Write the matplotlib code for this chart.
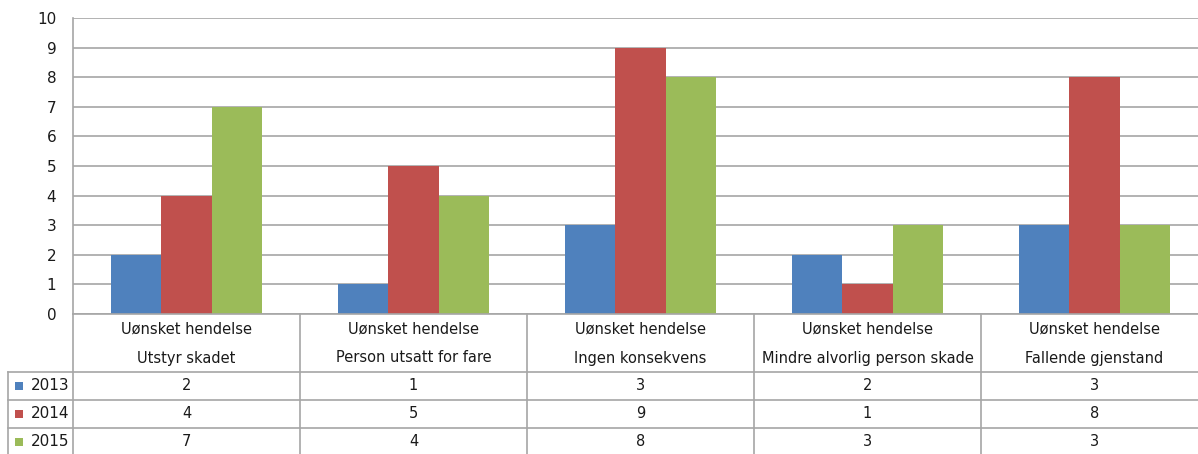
import numpy as np
import matplotlib
matplotlib.use('Agg')
import matplotlib.pyplot as plt

plt.rcParams['font.family'] = ['DejaVu Sans']

# data
top_label = 'Uønsket hendelse'
categories = ['Utstyr skadet', 'Person utsatt for fare', 'Ingen konsekvens',
              'Mindre alvorlig person skade', 'Fallende gjenstand']
years = ['2013', '2014', '2015']
v2013 = [2, 1, 3, 2, 3]
v2014 = [4, 5, 9, 1, 8]
v2015 = [7, 4, 8, 3, 3]
series = [v2013, v2014, v2015]
colors = ['#4F81BD', '#C0504D', '#9BBB59']
yticks = list(range(0, 11))

W, H = 1198, 454
fig = plt.figure(figsize=(W / 100, H / 100), dpi=100)

# plot area in pixels
x0, x1 = 73, 1208
ytop, ybot = 18, 314
ax = fig.add_axes([x0 / W, (H - ybot) / H, (x1 - x0) / W, (ybot - ytop) / H])

n = len(categories)
x = np.arange(n)
bw = 1 / 4.5
for i, (vals, c) in enumerate(zip(series, colors)):
    ax.bar(x + (i - 1) * bw, vals, width=bw, color=c, zorder=3, linewidth=0)

ax.set_xlim(-0.5, n - 0.5)
ax.set_ylim(0, 10)
ax.set_yticks(yticks)
ax.set_xticks([])
ax.yaxis.grid(True, color='#a6a6a6', linewidth=1.2, zorder=0)
for s in ['top', 'right', 'bottom']:
    ax.spines[s].set_visible(False)
ax.spines['left'].set_color('#a6a6a6')
ax.spines['left'].set_linewidth(1.2)
ax.tick_params(axis='y', length=0, pad=12, labelsize=11, labelcolor='#1a1a1a')

# data table drawn in pixel coords
tb = fig.add_axes([0, 0, 1, 1], facecolor='none')
tb.set_xlim(0, W)
tb.set_ylim(H, 0)
tb.axis('off')
lc = '#a6a6a6'
cw = (x1 - x0) / n
row_y = [372, 400, 428]
bottom = 470
tb.plot([x0, x1], [ybot, ybot], color=lc, lw=1.2, clip_on=False)
for k in range(n + 1):
    xb = x0 + k * cw
    tb.plot([xb, xb], [ybot, bottom], color=lc, lw=1.2, clip_on=False)
tb.plot([8, 8], [row_y[0], bottom], color=lc, lw=1.2, clip_on=False)
for ry in row_y:
    tb.plot([8, x1], [ry, ry], color=lc, lw=1.2, clip_on=False)

fs = 10.5
for k, cat in enumerate(categories):
    cx = x0 + (k + 0.5) * cw
    tb.text(cx, 329, top_label, ha='center', va='center', fontsize=fs, color='#1a1a1a')
    tb.text(cx, 358, cat, ha='center', va='center', fontsize=fs, color='#1a1a1a')
    for r, vals in enumerate(series):
        tb.text(cx, row_y[r] + 14, str(vals[k]), ha='center', va='center',
                fontsize=fs, color='#1a1a1a')

for r, (yr, c) in enumerate(zip(years, colors)):
    cy = row_y[r] + 14
    tb.add_patch(plt.Rectangle((15, cy - 4), 8, 8, color=c, lw=0))
    tb.text(31, cy, yr, ha='left', va='center', fontsize=11, color='#1a1a1a')

fig.savefig('out.png', dpi=100)
